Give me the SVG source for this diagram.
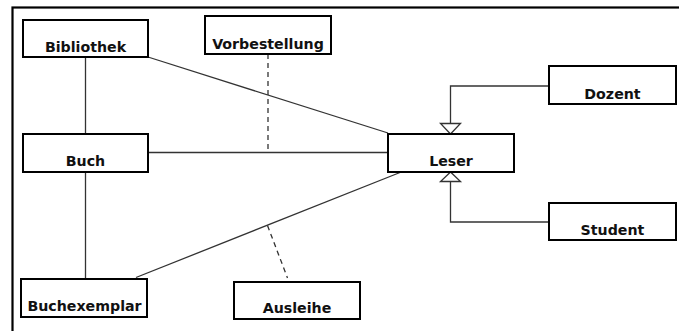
<svg xmlns="http://www.w3.org/2000/svg" width="679" height="331" viewBox="0 0 679 331">
<style>
.box{fill:#fff;stroke:#000;stroke-width:2}
.lbl{font-family:"DejaVu Sans",Verdana,sans-serif;font-weight:bold;font-size:14.2px;fill:#111;text-anchor:middle}
.ln{fill:none;stroke:#333;stroke-width:1.3}
.dash{fill:none;stroke:#333;stroke-width:1.3;stroke-dasharray:5,4}
.gen{fill:#fff;stroke:#333;stroke-width:1.3}
</style>
<rect x="0" y="0" width="679" height="331" fill="#fff"/>
<rect x="12.5" y="7.5" width="700" height="400" fill="none" stroke="#000" stroke-width="2.2"/>
<g id="connectors">
<line class="ln" x1="85.5" y1="57" x2="85.5" y2="134"/>
<line class="ln" x1="85.5" y1="172" x2="85.5" y2="279"/>
<line class="ln" x1="148" y1="57" x2="388" y2="133"/>
<line class="ln" x1="148" y1="152.5" x2="388" y2="152.5"/>
<line class="dash" x1="268" y1="54" x2="268" y2="152.5"/>
<line class="ln" x1="136" y1="277.5" x2="400" y2="172.5"/>
<line class="dash" x1="267.5" y1="225.5" x2="287.5" y2="278"/>
<polyline class="ln" points="549,86 450.5,86 450.5,123.5"/>
<polygon class="gen" points="450.5,134 440.5,123.5 460.5,123.5"/>
<polyline class="ln" points="549,222 450.5,222 450.5,181.5"/>
<polygon class="gen" points="450.5,172 440.5,181.5 460.5,181.5"/>
</g>
<g id="bibliothek"><rect class="box" x="23" y="20" width="125" height="37"/><text class="lbl" x="85.5" y="52">Bibliothek</text></g>
<g id="vorbestellung"><rect class="box" x="205" y="16" width="126" height="38"/><text class="lbl" x="268" y="49">Vorbestellung</text></g>
<g id="buch"><rect class="box" x="23" y="134" width="125" height="38"/><text class="lbl" x="85.5" y="166">Buch</text></g>
<g id="leser"><rect class="box" x="388" y="134" width="126" height="38"/><text class="lbl" x="451" y="166">Leser</text></g>
<g id="dozent"><rect class="box" x="549" y="66" width="127" height="38"/><text class="lbl" x="612.5" y="99">Dozent</text></g>
<g id="student"><rect class="box" x="549" y="203" width="127" height="37"/><text class="lbl" x="612.5" y="235">Student</text></g>
<g id="buchexemplar"><rect class="box" x="21" y="279" width="126" height="38"/><text class="lbl" x="84.5" y="311">Buchexemplar</text></g>
<g id="ausleihe"><rect class="box" x="234" y="282" width="126" height="37"/><text class="lbl" x="297" y="313">Ausleihe</text></g>
</svg>
